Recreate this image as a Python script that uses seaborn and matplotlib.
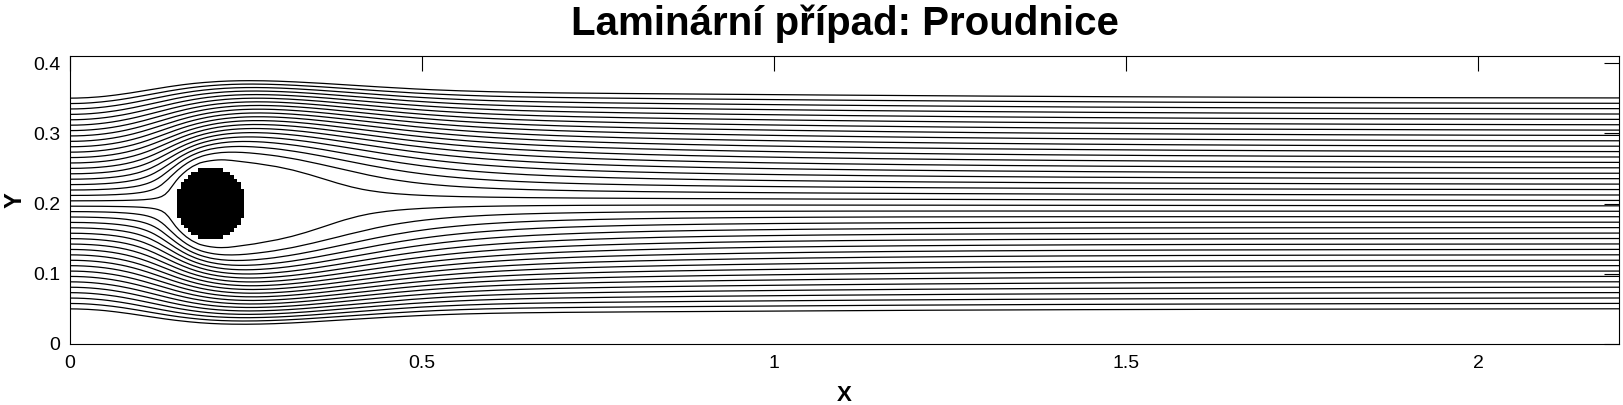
import numpy as np
import pandas as pd
import seaborn as sns
import matplotlib
matplotlib.use("Agg")
import matplotlib.pyplot as plt
from matplotlib.colors import ListedColormap
import contourpy

# channel with a cylinder (DFG benchmark geometry), laminar flow
CHANNEL_LENGTH = 2.2
CHANNEL_HEIGHT = 0.41
CYLINDER_X = 0.2
CYLINDER_Y = 0.2
CYLINDER_R = 0.05
REYNOLDS = 20
GRID_STEP = 0.005

# y where each streamline leaves the inlet (x = 0)
SEED_Y = [0.0500, 0.0577, 0.0654, 0.0731, 0.0808, 0.0885, 0.0962, 0.1038,
          0.1115, 0.1192, 0.1269, 0.1346, 0.1423, 0.1500, 0.1577, 0.1654,
          0.1731, 0.1808, 0.1885, 0.1962, 0.2038, 0.2115, 0.2192, 0.2269,
          0.2346, 0.2423, 0.2500, 0.2577, 0.2654, 0.2731, 0.2808, 0.2885,
          0.2962, 0.3038, 0.3115, 0.3192, 0.3269, 0.3346, 0.3423, 0.3500]

X_TICKS = [0, 0.5, 1, 1.5, 2]
X_TICK_LABELS = ["0", "0.5", "1", "1.5", "2"]
Y_TICKS = [0, 0.1, 0.2, 0.3, 0.4]
Y_TICK_LABELS = ["0", "0.1", "0.2", "0.3", "0.4"]

TITLE = "Laminární případ: Proudnice"
X_LABEL = "X"
Y_LABEL = "Y"


def run_lbm(n_steps=6000, n_avg=1000, u_max=0.15):
    """Laminar flow past the cylinder with a D2Q9 lattice Boltzmann scheme."""
    nx = int(round(CHANNEL_LENGTH / GRID_STEP)) + 1
    ny = int(round(CHANNEL_HEIGHT / GRID_STEP)) + 2  # one wall row on each side
    x = np.arange(nx) * GRID_STEP
    y = (np.arange(ny) - 0.5) * GRID_STEP
    xx, yy = np.meshgrid(x, y)
    cylinder = (xx - CYLINDER_X) ** 2 + (yy - CYLINDER_Y) ** 2 <= CYLINDER_R ** 2
    solid = cylinder.copy()
    solid[0, :] = True
    solid[-1, :] = True

    c = np.array([[0, 0], [1, 0], [0, 1], [-1, 0], [0, -1],
                  [1, 1], [-1, 1], [-1, -1], [1, -1]])
    w = np.array([4 / 9] + [1 / 9] * 4 + [1 / 36] * 4, dtype=np.float32)
    opp = np.array([0, 3, 4, 1, 2, 7, 8, 5, 6])
    east, mid, west = [1, 5, 8], [0, 2, 4], [3, 7, 6]  # west[k] opposite east[k]
    north, south = [2, 5, 6], [4, 7, 8]

    # parabolic inflow
    yc = np.clip(y, 0, CHANNEL_HEIGHT)
    u_in = (4 * u_max * yc * (CHANNEL_HEIGHT - yc) / CHANNEL_HEIGHT ** 2).astype(np.float32)
    u_in[solid[:, 0]] = 0
    diameter = 2 * CYLINDER_R / GRID_STEP
    u_mean = 2 / 3 * u_max
    nu = u_mean * diameter / REYNOLDS
    omega = np.float32(1 / (3 * nu + 0.5))

    def equilibrium(rho, ux, uy):
        usq = 1.5 * (ux * ux + uy * uy)
        feq = np.empty((9,) + rho.shape, dtype=np.float32)
        for i in range(9):
            cu = 3 * (c[i, 0] * ux + c[i, 1] * uy)
            feq[i] = rho * w[i] * (1 + cu + 0.5 * cu * cu - usq)
        return feq

    # start from channel flow with its pressure drop
    h_lb = CHANNEL_HEIGHT / GRID_STEP
    drho = -3 * 12 * nu * u_mean / h_lb ** 2
    rho0 = (1 + drho * (np.arange(nx) - (nx - 1)))[None, :] * np.ones((ny, 1))
    ux0 = np.tile(u_in[:, None], (1, nx))
    ux0[solid] = 0
    fin = equilibrium(rho0.astype(np.float32), ux0, np.zeros_like(ux0))
    flux = np.zeros((ny, nx))
    sj, si = np.nonzero(solid)

    for step in range(n_steps):
        fin[west, :, -1] = fin[west, :, -2]  # outflow
        rho = fin.sum(axis=0)
        ux = (fin[east].sum(0) - fin[west].sum(0)) / rho
        uy = (fin[north].sum(0) - fin[south].sum(0)) / rho
        ux[:, 0] = u_in
        uy[:, 0] = 0
        rho[:, 0] = (fin[mid, :, 0].sum(0) + 2 * fin[west, :, 0].sum(0)) / (1 - ux[:, 0])
        feq = equilibrium(rho, ux, uy)
        fin[east, :, 0] = feq[east, :, 0] + fin[west, :, 0] - feq[west, :, 0]
        fout = fin - omega * (fin - feq)
        fout[:, sj, si] = fin[:, sj, si][opp]  # bounce back
        for i in range(9):
            fin[i] = np.roll(fout[i], (c[i, 1], c[i, 0]), axis=(0, 1))
        if step >= n_steps - n_avg:
            flux += rho * ux

    flux /= n_avg
    flux[solid] = 0
    y_grid = y.copy()
    y_grid[0], y_grid[-1] = 0, CHANNEL_HEIGHT
    # stream function from the mass flux, zero on the bottom wall
    psi = np.zeros_like(flux)
    psi[1:] = np.cumsum(0.5 * (flux[1:] + flux[:-1]) * np.diff(y_grid)[:, None], axis=0)
    # same total flux in every cross section
    psi = psi / psi[-1:, :] * psi[-1, 0]
    return x, y_grid, psi, cylinder


x, y_grid, psi, cylinder = run_lbm()

# streamlines = contours of psi through the seed points at the inlet
levels = np.interp(SEED_Y, y_grid, psi[:, 0])
gen = contourpy.contour_generator(x, y_grid, psi)
rows = []
for k, lev in enumerate(levels):
    segs = gen.lines(lev)
    if not segs:
        continue
    seg = max(segs, key=len)
    rows.append(pd.DataFrame({"x": seg[:, 0], "y": seg[:, 1], "line": k}))
lines_df = pd.concat(rows, ignore_index=True)

sns.set_style("white")
plt.rcParams["font.family"] = ["Liberation Sans", "DejaVu Sans"]
plt.rcParams["text.color"] = "black"
plt.rcParams["axes.labelcolor"] = "black"

fig = plt.figure(figsize=(16.23, 4.05), dpi=100)
ax = fig.add_axes([70 / 1623, 61 / 405, 1549 / 1623, 288 / 405])

sns.lineplot(data=lines_df, x="x", y="y", units="line", estimator=None,
             sort=False, color="black", linewidth=0.9, legend=False, ax=ax)

# pixelated cylinder as on the lattice
x_edges = np.append(x - GRID_STEP / 2, x[-1] + GRID_STEP / 2)
y_edges = (np.arange(len(y_grid) + 1) - 1.0) * GRID_STEP
ax.pcolormesh(x_edges, y_edges, np.ma.masked_where(~cylinder, np.ones(cylinder.shape)),
              cmap=ListedColormap(["black"]), shading="flat")

ax.set_xlim(0, CHANNEL_LENGTH)
ax.set_ylim(0, CHANNEL_HEIGHT)
ax.set_xticks(X_TICKS, X_TICK_LABELS)
ax.set_yticks(Y_TICKS, Y_TICK_LABELS)
ax.tick_params(direction="in", length=10.5, width=0.8, top=True, right=True,
               labelsize=14, colors="black")
ax.tick_params(axis="x", pad=8)
ax.tick_params(axis="y", pad=7)
for sp in ax.spines.values():
    sp.set_color("black")
    sp.set_linewidth(0.8)
ax.set_xlabel(X_LABEL, fontsize=16, fontweight="bold", labelpad=9)
ax.set_ylabel(Y_LABEL, fontsize=17, fontweight="bold", labelpad=5)
ax.set_title(TITLE, fontsize=29, fontweight="bold", pad=15)

fig.savefig("out.png", dpi=100)
